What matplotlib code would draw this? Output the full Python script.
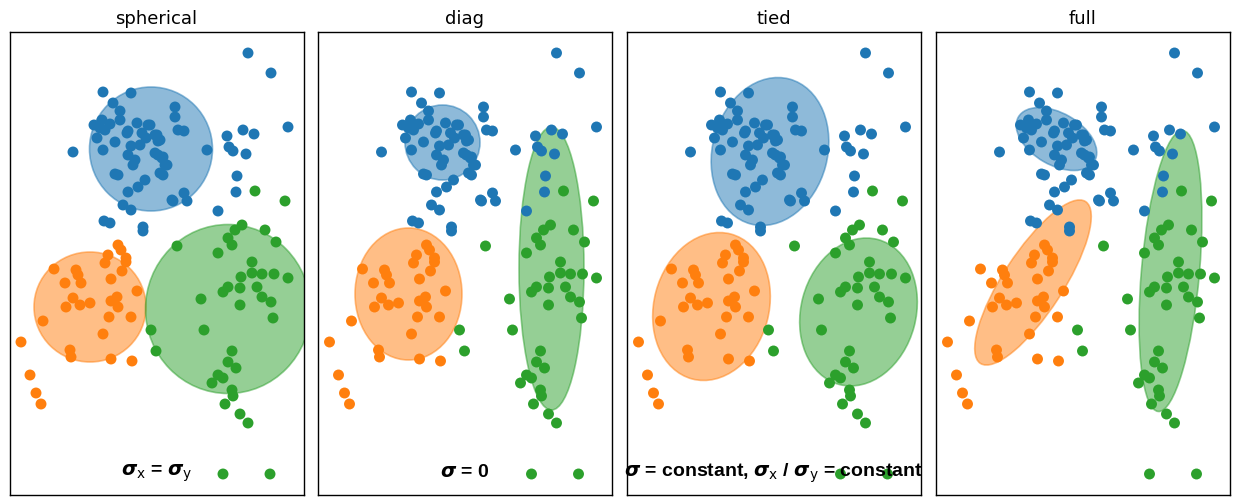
import matplotlib
matplotlib.use("Agg")
import matplotlib.pyplot as plt
from matplotlib.patches import Ellipse

# ---- data (shared scatter, same in every panel) ----
blue_x = [103,131,113,120,94,102,110,97,115,103,73,127,131,137,128,128,133,150,146,155,
          115,118,145,138,128,123,131,104,110,143,143,248,271,175,175,178,184,157,158,207,
          227,243,254,288,229,233,246,158,163,165,163,237,236,184,187,173,218,148,155,142,
          160,162,167,160,172,105,100,120,140,135]
blue_y = [92,93,103,111,125,120,124,138,142,150,152,133,146,123,131,155,165,125,138,153,
          174,175,180,187,192,205,210,221,223,227,231,53,73,107,117,130,131,135,141,150,
          136,130,134,127,147,151,154,155,157,165,175,176,192,193,201,201,211,125,135,133,
          140,158,165,173,200,130,128,120,145,160]
orange_x = [118,121,108,126,105,126,54,76,78,122,65,81,111,137,73,66,80,90,111,117,118,
            43,109,131,103,21,70,71,111,132,30,36,41]
orange_y = [245,250,255,258,263,262,269,270,275,271,283,283,279,291,298,307,305,303,301,297,307,
            321,317,317,334,342,350,357,359,361,375,393,404]
green_x = [255,285,242,235,265,228,232,276,177,218,252,252,262,274,288,241,228,223,240,257,
           262,271,273,201,240,204,151,156,232,228,236,218,223,212,232,233,225,240,248,223,270]
green_y = [191,201,225,230,230,238,245,242,246,253,262,273,274,274,278,277,287,292,288,287,
           297,302,318,299,305,330,330,351,351,362,368,375,378,383,390,396,404,414,423,474,474]

titles = ["spherical", "diag", "tied", "full"]
labels = [r"$\boldsymbol{\sigma}_{\mathrm{x}}$ = $\boldsymbol{\sigma}_{\mathrm{y}}$",
          r"$\boldsymbol{\sigma}$ = 0",
          r"$\boldsymbol{\sigma}$ = constant, $\boldsymbol{\sigma}_{\mathrm{x}}$ / $\boldsymbol{\sigma}_{\mathrm{y}}$ = constant",
          ""]

# ellipses per panel: (cx, cy, width, height, angle) for blue, orange, green
ellipses = [
    [(151, 149, 123, 124, 0), (90, 307, 112, 110, 0), (228, 309, 165, 169, 0)],
    [(134, 142.5, 75, 75, 0), (100, 294, 107, 132, 0), (243, 268.5, 65, 283, 0)],
    [(152.5, 151.5, 150, 115, -75), (94, 306.5, 150, 115, -75), (241, 312, 150, 115, -75)],
    [(130, 139, 88, 52, 30), (106.5, 282.5, 193, 60, -57), (244, 271, 282, 58, -85)],
]

colors = ["#1f77b4", "#ff7f0e", "#2ca02c"]

fig = plt.figure(figsize=(12.33, 5.0), dpi=100)
lefts = [9.5, 318, 627, 936]
W, H = 1233.0, 500.0
for i in range(4):
    ax = fig.add_axes([lefts[i] / W, (H - 495) / H, 294 / W, 463 / H])
    for (cx, cy, w, h, a), c in zip(ellipses[i], colors):
        e = Ellipse((cx, cy), w, h, angle=a, facecolor=c, edgecolor=c, alpha=0.5, lw=1.2)
        ax.add_patch(e)
    for xs, ys, c in [(blue_x, blue_y, colors[0]), (orange_x, orange_y, colors[1]),
                      (green_x, green_y, colors[2])]:
        ax.scatter(xs, ys, s=62, color=c, edgecolors="none", zorder=3)
    ax.set_xlim(9.5, 303.5)
    ax.set_ylim(495, 32)
    ax.set_xticks([])
    ax.set_yticks([])
    for sp in ax.spines.values():
        sp.set_color("black")
        sp.set_linewidth(1.0)
    ax.set_title(titles[i], fontsize=13, pad=6)
    if labels[i]:
        ax.text(0.5, 0.048, labels[i], transform=ax.transAxes, ha="center", va="center",
                fontsize=14, fontweight="bold", family="Liberation Sans", zorder=5)

fig.savefig("out.png", dpi=100)
